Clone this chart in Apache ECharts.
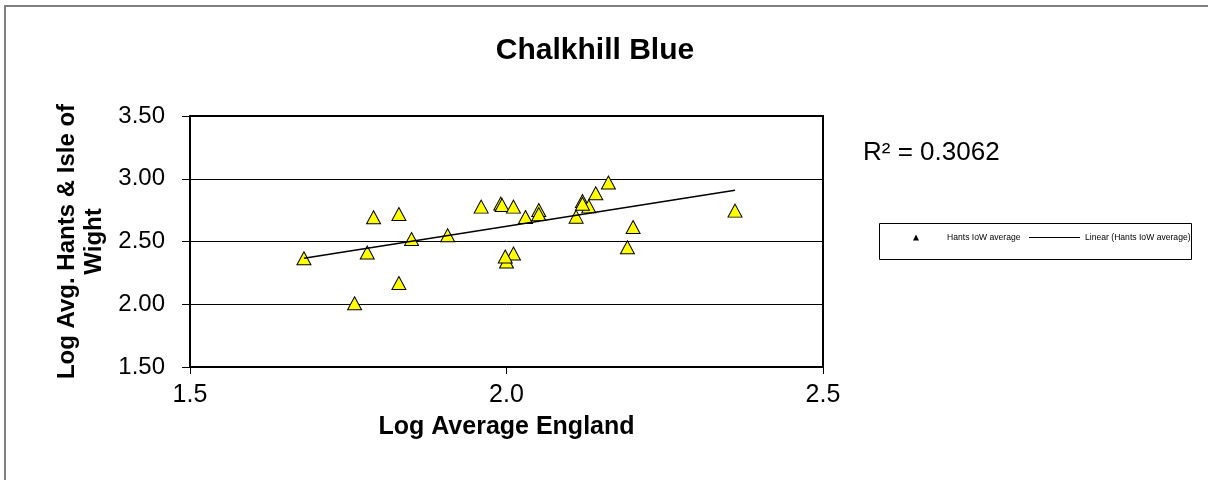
<!DOCTYPE html>
<html>
<head>
<meta charset="utf-8">
<script src="https://cdn.jsdelivr.net/npm/echarts@6/dist/echarts.min.js"></script>
<style>
html,body{margin:0;padding:0;background:#fff;}
#chart{width:1208px;height:480px;}
</style>
</head>
<body>
<div id="chart"></div>
<script>
// Data
const englandLog = [1.680, 1.780, 1.790, 1.830, 1.850, 1.830, 1.760, 1.907, 1.960, 1.991, 1.993, 2.011, 2.030, 2.051, 2.051, 2.000, 2.011, 1.998, 2.110, 2.120, 2.130, 2.120, 2.141, 2.161, 2.200, 2.191, 2.361];
const hantsLog   = [2.366, 2.412, 2.693, 2.719, 2.520, 2.169, 2.008, 2.550, 2.778, 2.802, 2.790, 2.778, 2.695, 2.751, 2.718, 2.341, 2.404, 2.380, 2.698, 2.823, 2.780, 2.800, 2.884, 2.970, 2.615, 2.454, 2.746];
const trendX = [1.680, 2.361];
const trendY = [2.366, 2.908];
const xTicks = ['1.5', '2.0', '2.5'];
const yTicks = ['1.50', '2.00', '2.50', '3.00', '3.50'];
const seriesName = 'Hants IoW average';
const trendName = 'Linear (Hants IoW average)';
const chartTitle = 'Chalkhill Blue';
const rSquaredText = 'R² = 0.3062';
const xName = 'Log Average England';
const yName = 'Log Avg. Hants & Isle of\nWight';

const FONT = '"Liberation Sans", Arial, sans-serif';
const chart = echarts.init(document.getElementById('chart'), null, {renderer: 'canvas'});

const scatterData = englandLog.map((x, i) => [x, hantsLog[i]]);
const trendData = trendX.map((x, i) => [x, trendY[i]]);

chart.setOption({
  animation: false,
  backgroundColor: '#fff',
  textStyle: {fontFamily: FONT},
  title: [
    {text: chartTitle, left: 595, top: 36, textAlign: 'center', padding: 0,
     textStyle: {fontFamily: FONT, fontSize: 30, fontWeight: 'bold', color: '#000'}},
    {text: rSquaredText, left: 863, top: 140, padding: 0,
     textStyle: {fontFamily: FONT, fontSize: 26, fontWeight: 'normal', color: '#000'}}
  ],
  grid: {left: 190, right: 385, top: 116, bottom: 113, show: true,
         borderColor: '#000', borderWidth: 2, backgroundColor: '#fff'},
  legend: [
    {data: [{name: seriesName, icon: 'triangle', itemStyle: {color: '#000', borderWidth: 0}}],
     left: 913, top: 233, padding: 0, itemWidth: 6, itemHeight: 6, orient: 'horizontal',
     textStyle: {fontFamily: FONT, fontSize: 8.6, color: '#000', padding: [0, 0, 0, 23]}},
    {data: [{name: trendName, icon: 'rect', itemStyle: {color: '#000', borderWidth: 0}}],
     left: 1029, top: 233, padding: 0, itemWidth: 51, itemHeight: 1.2,
     textStyle: {fontFamily: FONT, fontSize: 8.6, color: '#000'}}
  ],
  graphic: [
    {type: 'rect', shape: {x: 5, y: 6, width: 1300, height: 600},
     style: {fill: 'none', stroke: '#808080', lineWidth: 2}, silent: true, z: -1},
    {type: 'rect', shape: {x: 879.5, y: 223.5, width: 312, height: 36},
     style: {fill: 'none', stroke: '#000', lineWidth: 1}, silent: true}
  ],
  xAxis: {
    type: 'value', min: 1.5, max: 2.5, interval: 0.5,
    name: xName, nameLocation: 'middle', nameGap: 48,
    nameTextStyle: {fontFamily: FONT, fontSize: 25, fontWeight: 'bold', color: '#000'},
    axisLine: {show: true, lineStyle: {color: '#000', width: 2}},
    axisTick: {show: true, length: 7, lineStyle: {color: '#000', width: 1}},
    axisLabel: {margin: 16, fontFamily: FONT, fontSize: 25, color: '#000',
                formatter: v => xTicks[Math.round((v - 1.5) / 0.5)]},
    splitLine: {show: false}
  },
  yAxis: {
    type: 'value', min: 1.5, max: 3.5, interval: 0.5,
    name: yName, nameLocation: 'middle', nameGap: 82, nameRotate: 90,
    nameTextStyle: {fontFamily: FONT, fontSize: 24, fontWeight: 'bold', color: '#000', lineHeight: 27},
    axisLine: {show: true, lineStyle: {color: '#000', width: 2}},
    axisTick: {show: true, length: 8, lineStyle: {color: '#000', width: 1}},
    axisLabel: {margin: 25, fontFamily: FONT, fontSize: 24, color: '#000',
                formatter: v => yTicks[Math.round((v - 1.5) / 0.5)]},
    splitLine: {show: true, lineStyle: {color: '#000', width: 1}}
  },
  series: [
    {name: seriesName, type: 'scatter', data: scatterData,
     symbol: 'triangle', symbolSize: [14, 13],
     itemStyle: {color: '#FFFF00', borderColor: '#000', borderWidth: 1, opacity: 1},
     z: 3},
    {name: trendName, type: 'line', data: trendData, symbol: 'none',
     lineStyle: {color: '#000', width: 1.5}, itemStyle: {color: '#000'}, z: 4}
  ]
});
</script>
</body>
</html>
